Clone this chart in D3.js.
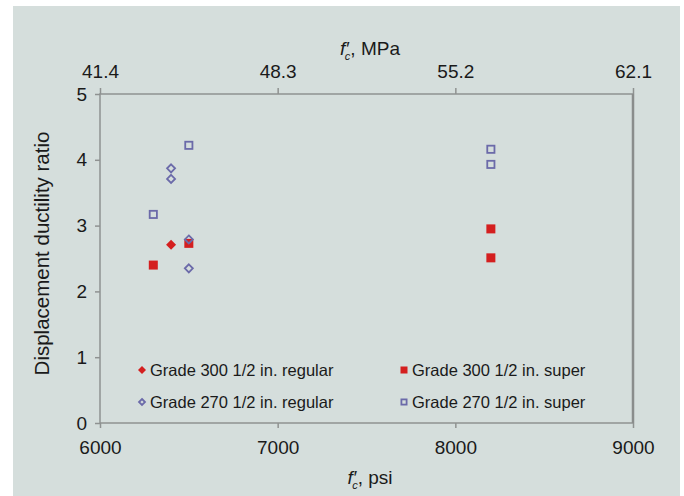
<!DOCTYPE html>
<html>
<head>
<meta charset="utf-8">
<script src="https://cdn.jsdelivr.net/npm/d3@7"></script>
<style>
	body { margin: 0; background: #fff; }
	text { font-family: "Liberation Sans", Arial, sans-serif; fill: #1a1a1a; }
</style>
</head>
<body>
<svg id="chart" width="684" height="496"></svg>
<script>
// Data
var psiTicks = [6000, 7000, 8000, 9000];
var mpaTicks = [41.4, 48.3, 55.2, 62.1];
var ratioTicks = [0, 1, 2, 3, 4, 5];

var g300RegX = [6400];
var g300RegY = [2.71];
var g300SupX = [6300, 6500, 8200, 8200];
var g300SupY = [2.40, 2.73, 2.95, 2.51];
var g270RegX = [6400, 6400, 6500, 6500];
var g270RegY = [3.87, 3.71, 2.79, 2.35];
var g270SupX = [6300, 6500, 8200, 8200];
var g270SupY = [3.17, 4.22, 4.16, 3.93];

var seriesNames = ['Grade 300 1/2 in. regular', 'Grade 300 1/2 in. super',
	'Grade 270 1/2 in. regular', 'Grade 270 1/2 in. super'];

var red = '#d41f1f', blue = '#6b6aa9';

var series = [
	{name: seriesNames[0], xs: g300RegX, ys: g300RegY, shape: 'diamond', filled: true, color: red},
	{name: seriesNames[1], xs: g300SupX, ys: g300SupY, shape: 'square', filled: true, color: red},
	{name: seriesNames[2], xs: g270RegX, ys: g270RegY, shape: 'diamond', filled: false, color: blue},
	{name: seriesNames[3], xs: g270SupX, ys: g270SupY, shape: 'square', filled: false, color: blue}
];

var svg = d3.select('#chart');

// gray panel
svg.append('rect').attr('x', 13).attr('y', 6).attr('width', 667).attr('height', 490).attr('fill', '#d5dedc');

var pLeft = 100, pRight = 633, pTop = 94, pBottom = 423;

var x = d3.scaleLinear().domain([6000, 9000]).range([pLeft, pRight]);
var x2 = d3.scaleLinear().domain([41.4, 62.1]).range([pLeft, pRight]);
var y = d3.scaleLinear().domain([0, 5]).range([pBottom, pTop]);

var axisColor = '#8f9291';

function styleAxis(g, fs) {
	g.select('.domain').remove();
	g.selectAll('.tick line').attr('stroke', axisColor).attr('stroke-width', 1.5);
	g.selectAll('.tick text').style('font-size', fs + 'px').attr('fill', '#1a1a1a');
}

svg.append('g').attr('transform', 'translate(0,' + pBottom + ')')
	.call(d3.axisBottom(x).tickValues(psiTicks).tickSize(5).tickPadding(13).tickFormat(d3.format('d')))
	.call(styleAxis, 19);

svg.append('g').attr('transform', 'translate(0,' + pTop + ')')
	.call(d3.axisTop(x2).tickValues(mpaTicks).tickSize(6).tickPadding(10).tickFormat(d3.format('.1f')))
	.call(styleAxis, 19);

svg.append('g').attr('transform', 'translate(' + pLeft + ',0)')
	.call(d3.axisLeft(y).tickValues(ratioTicks).tickSize(5).tickPadding(8).tickFormat(d3.format('d')))
	.call(styleAxis, 19);

// frame
svg.append('rect').attr('x', pLeft).attr('y', pTop).attr('width', pRight - pLeft).attr('height', pBottom - pTop)
	.attr('fill', 'none').attr('stroke', axisColor).attr('stroke-width', 1.5);
svg.append('line').attr('x1', pRight).attr('x2', pRight).attr('y1', pTop).attr('y2', pBottom)
	.attr('stroke', '#8a8d8c').attr('stroke-width', 2.5);

// axis titles: italic f with prime and subscript c
function fcLabel(sel, rest) {
	sel.append('tspan').attr('font-style', 'italic').text('f′');
	sel.append('tspan').attr('font-style', 'italic').style('font-size', '11px').attr('dx', -4).attr('dy', 5).text('c');
	sel.append('tspan').attr('dy', -5).text(rest);
}
svg.append('text').attr('x', 370).attr('y', 55).attr('text-anchor', 'middle').style('font-size', '19px')
	.call(fcLabel, ', MPa');
svg.append('text').attr('x', 370).attr('y', 484).attr('text-anchor', 'middle').style('font-size', '19px')
	.call(fcLabel, ', psi');
svg.append('text').attr('transform', 'translate(49,' + ((pTop + pBottom) / 2 - 5) + ') rotate(-90)')
	.attr('text-anchor', 'middle').style('font-size', '20.5px').text('Displacement ductility ratio');

// markers
function drawMarker(g, s, cx, cy, size) {
	var sw = s.filled ? 0 : 1.8;
	var el;
	if (s.shape === 'square') {
		var h = s.filled ? size / 2 : size / 2 - 0.9;
		el = g.append('rect').attr('x', cx - h).attr('y', cy - h).attr('width', 2 * h).attr('height', 2 * h);
	} else {
		var r = s.filled ? size / 2 + 0.5 : size / 2 - 0.5;
		el = g.append('path').attr('d', 'M' + cx + ',' + (cy - r) + 'L' + (cx + r) + ',' + cy +
			'L' + cx + ',' + (cy + r) + 'L' + (cx - r) + ',' + cy + 'Z');
	}
	el.attr('fill', s.filled ? s.color : 'none').attr('stroke', s.filled ? 'none' : s.color)
		.attr('stroke-width', sw);
}

var marks = svg.append('g');
series.forEach(function(s) {
	s.xs.forEach(function(v, i) {
		drawMarker(marks, s, x(v), y(s.ys[i]), 9);
	});
});

// legend
var legendPos = [[142, 370], [404, 370], [142, 402], [404, 402]];
series.forEach(function(s, i) {
	var p = legendPos[i];
	drawMarker(svg, s, p[0], p[1], 7);
	svg.append('text').attr('x', p[0] + 8).attr('y', p[1] + 6).style('font-size', '16.5px').text(s.name);
});
</script>
</body>
</html>
